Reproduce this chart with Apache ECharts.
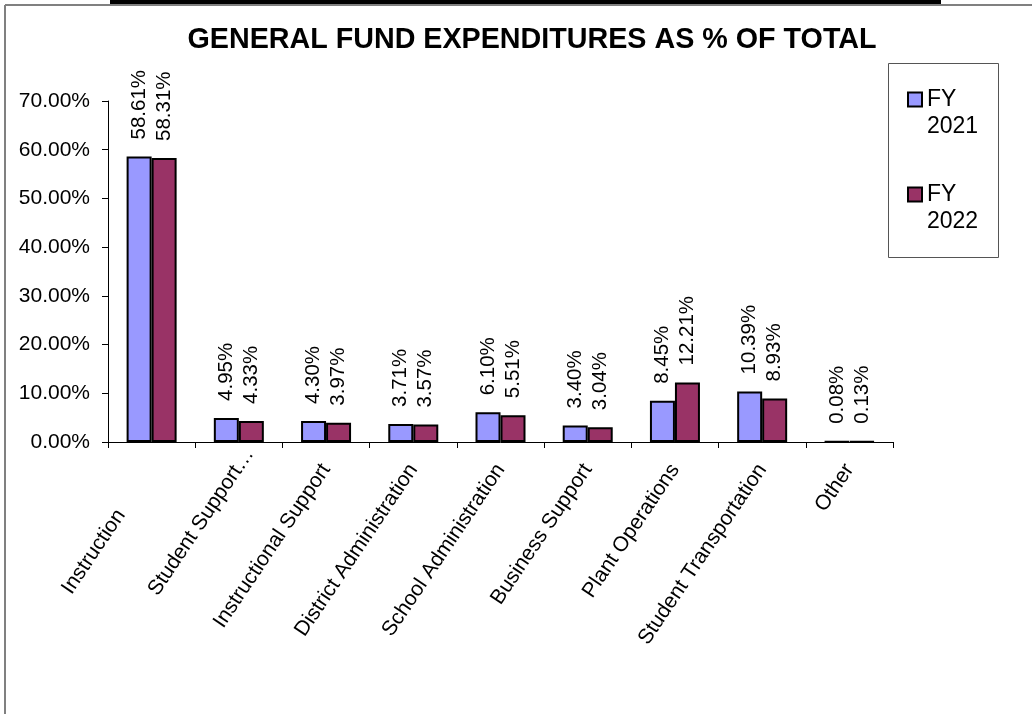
<!DOCTYPE html>
<html>
<head>
<meta charset="utf-8">
<script src="https://cdn.jsdelivr.net/npm/echarts@6/dist/echarts.min.js"></script>
<style>
  html, body { margin: 0; padding: 0; background: #fff; }
  #chart { width: 1032px; height: 714px; }
</style>
</head>
<body>
<div id="chart"></div>
<script>
const categories = ['Instruction', 'Student Support…', 'Instructional Support', 'District Administration',
  'School Administration', 'Business Support', 'Plant Operations', 'Student Transportation', 'Other'];
const fy2021 = [58.61, 4.95, 4.30, 3.71, 6.10, 3.40, 8.45, 10.39, 0.08];
const fy2022 = [58.31, 4.33, 3.97, 3.57, 5.51, 3.04, 12.21, 8.93, 0.13];
const yTicks = [0, 10, 20, 30, 40, 50, 60, 70];

let myChart = echarts.init(document.getElementById('chart'));
const font = 'Liberation Sans, Arial, sans-serif';

// data labels sit above each bar, reading bottom to top
function barLabel() {
  return {
    show: true,
    position: 'top',
    rotate: 90,
    align: 'left',
    verticalAlign: 'middle',
    distance: 17,
    fontFamily: font,
    fontSize: 20.5,
    color: '#000',
    formatter: p => p.value.toFixed(2) + '%'
  };
}

// the first two category labels sit a bit off the others in the original
const labelPad = {
  'Instruction': [0, 55, 0, 0],
  'Student Support…': [0, -19, 0, 0]
};

let option = {
  backgroundColor: '#fff',
  animation: false,
  title: {
    text: 'GENERAL FUND EXPENDITURES AS % OF TOTAL',
    left: 527,
    textAlign: 'center',
    top: 21,
    textStyle: { fontFamily: font, fontSize: 28.7, fontWeight: 'bold', color: '#000' }
  },
  legend: {
    orient: 'vertical',
    left: 907,
    top: 61,
    padding: 0,
    itemWidth: 14,
    itemHeight: 14,
    itemGap: 18,
    icon: 'rect',
    itemStyle: { borderColor: '#000', borderWidth: 2 },
    formatter: name => '{e| }\n{a|' + name.replace(' ', '}\n{a|') + '}',
    textStyle: {
      fontFamily: font, fontSize: 23, color: '#000',
      rich: {
        e: { fontSize: 23, lineHeight: 27 },
        a: { fontFamily: font, fontSize: 23, lineHeight: 27, color: '#000' }
      }
    },
    data: ['FY 2021', 'FY 2022']
  },
  grid: { left: 108, top: 101, right: 139, bottom: 272 },
  xAxis: {
    type: 'category',
    data: categories.map(c => labelPad[c]
      ? { value: c, textStyle: { padding: labelPad[c] } }
      : c),
    axisLine: { lineStyle: { color: '#000', width: 1 } },
    axisTick: { show: true, length: 6, interval: 0, lineStyle: { color: '#000' } },
    axisLabel: {
      interval: 0,
      rotate: 56,
      margin: 24,
      fontFamily: font,
      fontSize: 21,
      color: '#000'
    }
  },
  yAxis: {
    type: 'value',
    min: yTicks[0],
    max: yTicks[yTicks.length - 1],
    interval: 10,
    splitLine: { show: false },
    axisLine: { show: true, lineStyle: { color: '#000', width: 1 } },
    axisTick: { show: true, length: 6, lineStyle: { color: '#000' } },
    axisLabel: {
      margin: 18,
      fontFamily: font,
      fontSize: 21,
      color: '#000',
      formatter: v => v.toFixed(2) + '%'
    }
  },
  series: [
    {
      name: 'FY 2021',
      type: 'bar',
      barWidth: 25,
      barGap: '0%',
      itemStyle: { color: '#9999FF', borderColor: '#000', borderWidth: 2 },
      label: barLabel(),
      data: fy2021
    },
    {
      name: 'FY 2022',
      type: 'bar',
      barWidth: 25,
      itemStyle: { color: '#993366', borderColor: '#000', borderWidth: 2 },
      label: barLabel(),
      data: fy2022
    }
  ],
  graphic: [
    // page frame and the black strip at the very top
    { type: 'rect', shape: { x: 110, y: 0, width: 831, height: 4 }, style: { fill: '#000' } },
    { type: 'line', shape: { x1: 5, y1: 5, x2: 1032, y2: 5 }, style: { stroke: '#808080', lineWidth: 2 } },
    { type: 'line', shape: { x1: 5, y1: 5, x2: 5, y2: 714 }, style: { stroke: '#808080', lineWidth: 2 } },
    // legend box
    { type: 'rect', shape: { x: 888.5, y: 63.5, width: 110, height: 194 }, style: { fill: 'none', stroke: '#555', lineWidth: 1 } }
  ]
};

myChart.setOption(option);
</script>
</body>
</html>
